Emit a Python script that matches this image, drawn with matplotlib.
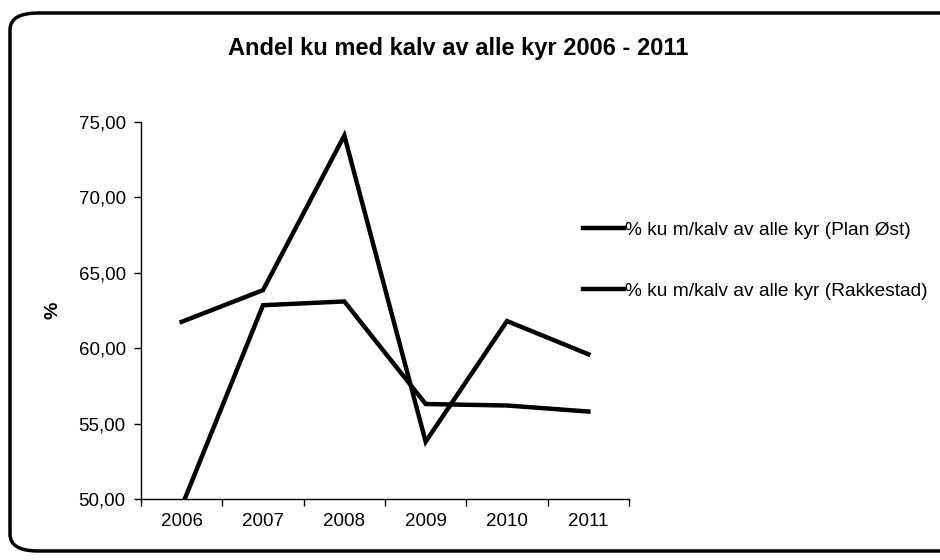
import matplotlib
matplotlib.use('Agg')
from matplotlib import pyplot as plt
from matplotlib.patches import FancyBboxPatch

years = ['2006', '2007', '2008', '2009', '2010', '2011']
plan_ost = [61.75, 63.85, 74.1, 53.8, 61.8, 59.6]
rakkestad = [49.5, 62.85, 63.1, 56.3, 56.2, 55.8]
labels = ['% ku m/kalv av alle kyr (Plan Øst)', '% ku m/kalv av alle kyr (Rakkestad)']
yticks = [50, 55, 60, 65, 70, 75]

plt.rcParams['font.family'] = ['Liberation Sans', 'DejaVu Sans']

fig = plt.figure(figsize=(9.4, 5.6), dpi=100)

# rounded frame around the whole chart (right side runs off the scan)
frame = FancyBboxPatch((10/940, 1 - 551/560), 990/940, (551 - 13)/560,
                       boxstyle='round,pad=0,rounding_size=0.03',
                       transform=fig.transFigure, fill=False,
                       edgecolor='black', linewidth=2.5, clip_on=False)
fig.patches.append(frame)

ax = fig.add_axes([141/940, 1 - 499/560, (629 - 141)/940, (499 - 122)/560])
x = list(range(len(years)))
l1, = ax.plot(x, plan_ost, color='black', linewidth=3.2, solid_joinstyle='miter')
l2, = ax.plot(x, rakkestad, color='black', linewidth=3.2, solid_joinstyle='miter')

ax.set_xlim(-0.5, len(years) - 0.5)
ax.set_ylim(50, 75)
ax.set_yticks(yticks)
ax.set_yticklabels([f'{v:.2f}'.replace('.', ',') for v in yticks], fontsize=13.5)
ax.set_xticks([i - 0.5 for i in range(len(years) + 1)])
ax.set_xticklabels([])
ax.set_xticks(x, minor=True)
ax.set_xticklabels(years, minor=True, fontsize=13.5)
ax.tick_params(axis='x', which='minor', length=0, pad=10)
ax.tick_params(axis='x', which='major', direction='out', length=5, width=1)
ax.tick_params(axis='y', direction='out', length=5, width=1, pad=6)
for s in ['top', 'right']:
    ax.spines[s].set_visible(False)
ax.spines['left'].set_linewidth(1)
ax.spines['bottom'].set_linewidth(1)

ax.set_ylabel('%', fontsize=14, fontweight='bold', labelpad=12)

fig.text(458/940, 1 - 48/560, 'Andel ku med kalv av alle kyr 2006 - 2011',
         ha='center', va='center', fontsize=17, fontweight='bold')

fig.legend([l1, l2], labels, loc='upper left',
           bbox_to_anchor=(566/940, 1 - 204/560), frameon=False,
           fontsize=13.8, handlelength=2.1, handletextpad=0.1,
           labelspacing=2.3)

fig.savefig('out.png', dpi=100)
